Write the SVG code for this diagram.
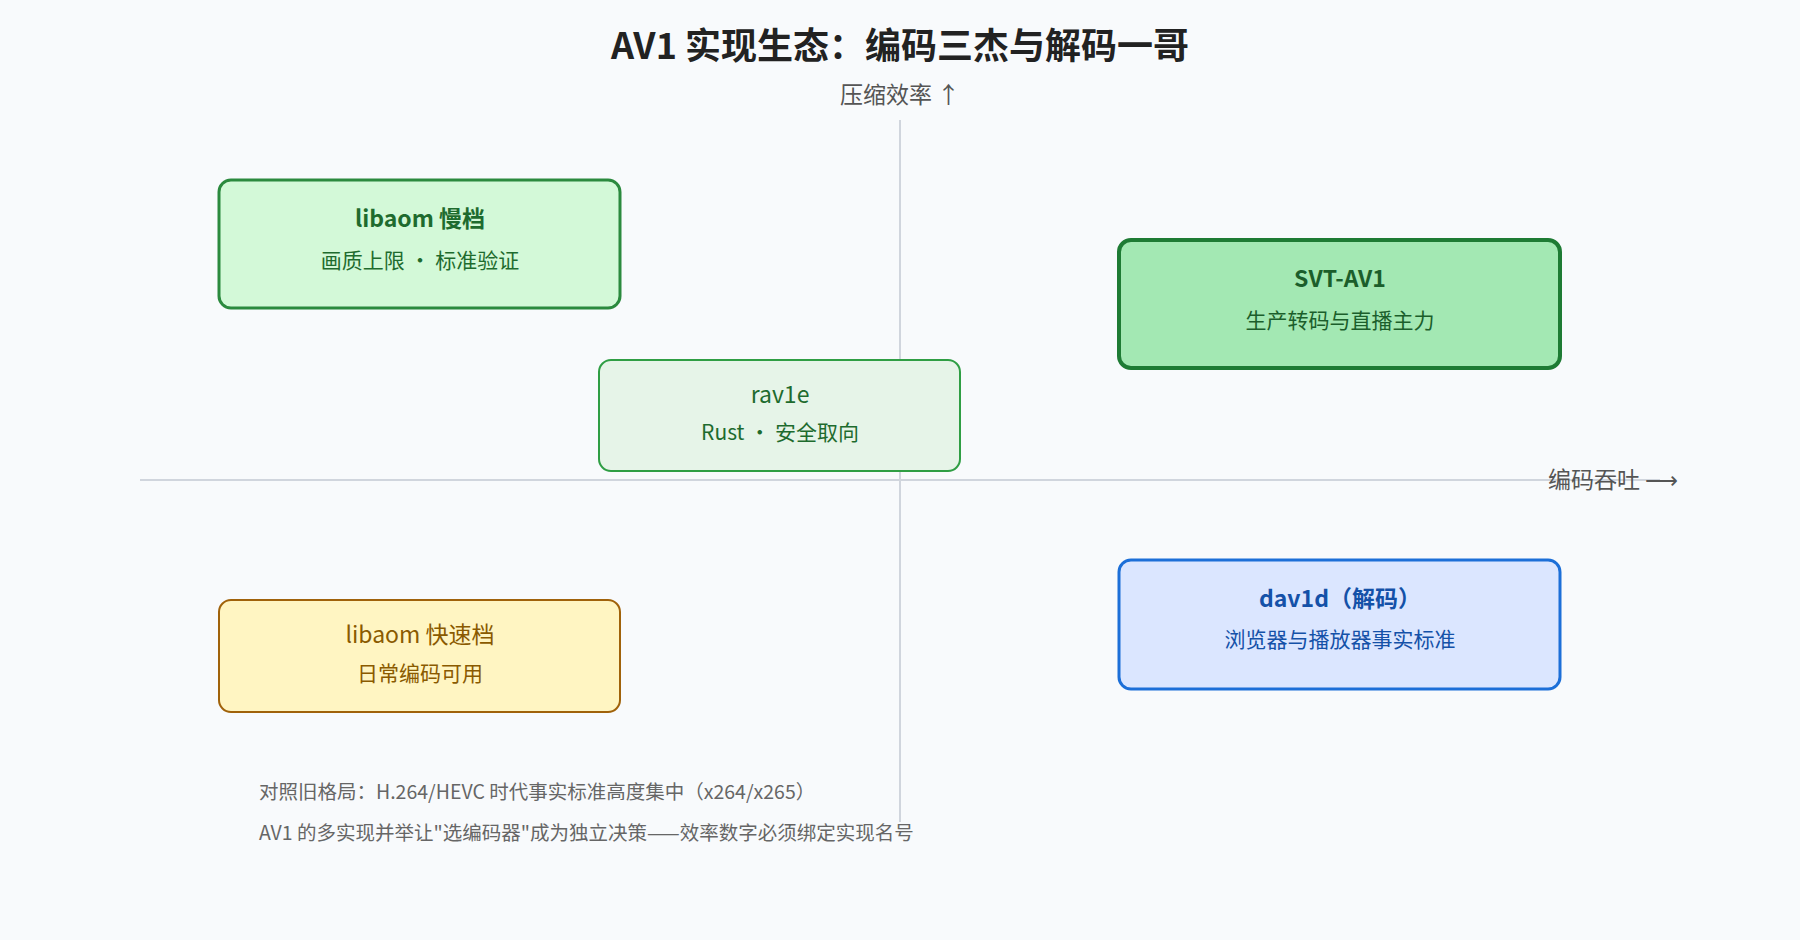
<svg xmlns="http://www.w3.org/2000/svg" width="1800" height="940" viewBox="0 0 1800 940">
<style>
text{font-family:"Noto Sans CJK SC","Noto Sans",sans-serif;text-anchor:middle}
.t{font-size:23px}
.b{font-weight:bold}
.s{font-size:21px}
.ax{font-size:23px;fill:#555}
.n{font-size:19.5px;fill:#666;text-anchor:start}
</style>
<rect width="1800" height="940" fill="#f8fafc"/>
<text x="900" y="59" font-size="36" font-weight="bold" fill="#222">AV1 实现生态：编码三杰与解码一哥</text>
<g id="axes" stroke="#d0d5dd" stroke-width="2">
<line x1="900" y1="120" x2="900" y2="822"/>
<line x1="140" y1="480" x2="1660" y2="480"/>
</g>
<text class="ax" x="900" y="103">压缩效率 ↑</text>
<text class="ax" x="1613" y="488">编码吞吐 ⟶</text>
<g id="libaom-slow">
<rect x="219" y="180" width="401" height="128" rx="12" fill="#d3f9d8" stroke="#2b8a3e" stroke-width="3"/>
<text class="t b" x="420" y="227" fill="#1e6b2e">libaom 慢档</text>
<text class="s" x="420" y="268" fill="#1e6b2e">画质上限 · 标准验证</text>
</g>
<g id="svt-av1">
<rect x="1119" y="240" width="441" height="128" rx="12" fill="#a3e8b3" stroke="#1e7b34" stroke-width="4"/>
<text class="t b" x="1340" y="287" fill="#1b5e2b">SVT-AV1</text>
<text class="s" x="1340" y="328" fill="#1b5e2b">生产转码与直播主力</text>
</g>
<g id="rav1e">
<rect x="599" y="360" width="361" height="111" rx="12" fill="#e6f4e8" stroke="#2f9e44" stroke-width="2"/>
<text class="t" x="780" y="403" fill="#1e6b2e">rav1e</text>
<text class="s" x="780" y="440" fill="#1e6b2e">Rust · 安全取向</text>
</g>
<g id="libaom-fast">
<rect x="219" y="600" width="401" height="112" rx="12" fill="#fff5c2" stroke="#a0620a" stroke-width="2"/>
<text class="t" x="420" y="643" fill="#8a5a00">libaom 快速档</text>
<text class="s" x="420" y="681" fill="#8a5a00">日常编码可用</text>
</g>
<g id="dav1d">
<rect x="1119" y="560" width="441" height="129" rx="12" fill="#dbe6ff" stroke="#1c6fd8" stroke-width="3"/>
<text class="t b" x="1340" y="607" fill="#1451a8">dav1d（解码）</text>
<text class="s" x="1340" y="647" fill="#1451a8">浏览器与播放器事实标准</text>
</g>
<text class="n" x="259" y="799">对照旧格局：H.264/HEVC 时代事实标准高度集中（x264/x265）</text>
<text class="n" x="259" y="840">AV1 的多实现并举让"选编码器"成为独立决策——效率数字必须绑定实现名号</text>
</svg>
